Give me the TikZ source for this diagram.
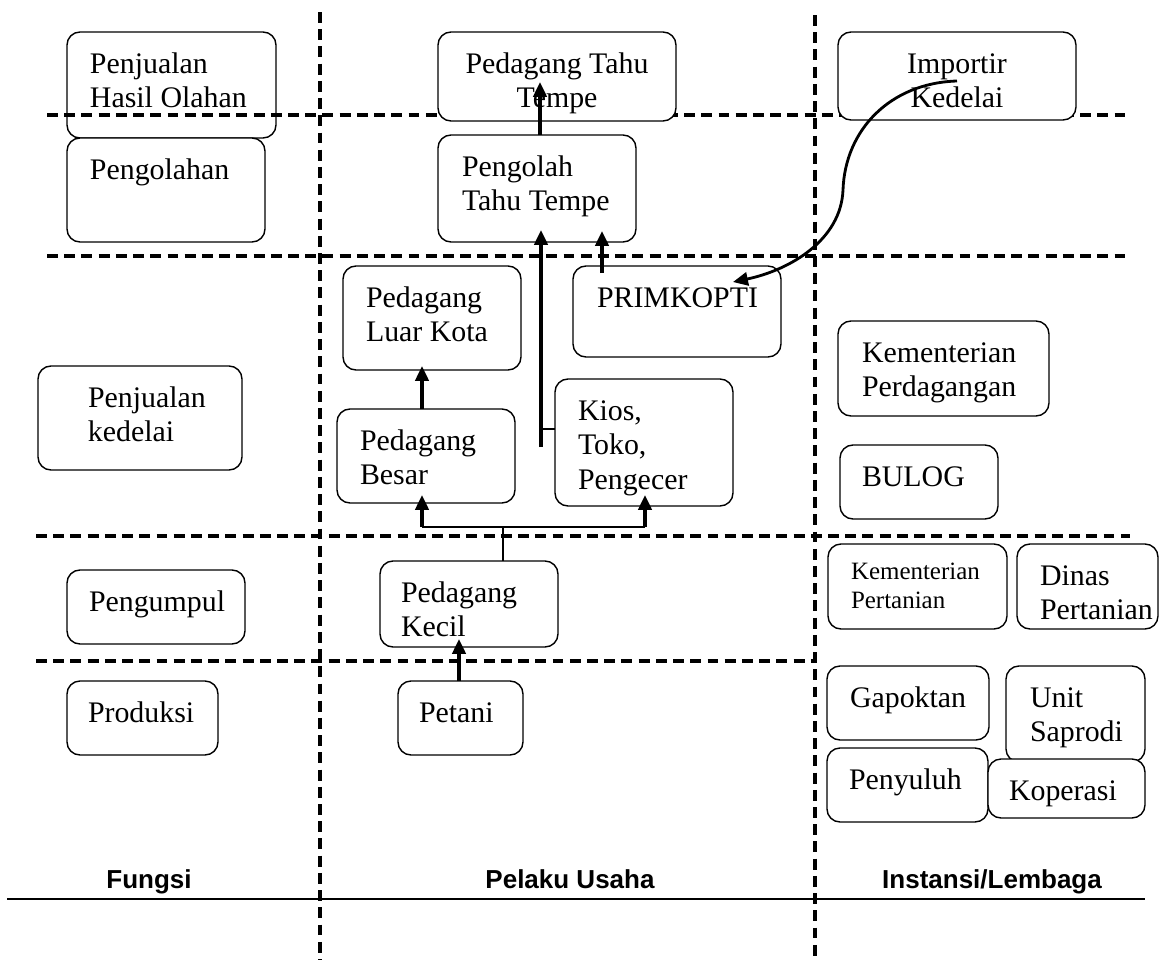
\documentclass[tikz,border=0pt]{standalone}
\usepackage{fontspec}
\setmainfont{Liberation Serif}
\newfontfamily\arialf{Liberation Sans}
\usetikzlibrary{arrows.meta}
\tikzset{
 box/.style={draw, line width=0.8pt, rounded corners=0.26cm, inner sep=0pt, outer sep=0pt, font=\fontsize{17}{19.5}\selectfont},
 filledbox/.style={box, fill=white},
 gridline/.style={line width=2pt, dash pattern=on 6.2pt off 3.6pt},
 arr/.style={line width=1.9pt, -{Triangle[length=8.5pt,width=7.6pt]}},
 curvearr/.style={line width=1.6pt, -{Triangle[length=8.5pt,width=7.6pt]}},
 thinline/.style={line width=0.8pt},
 lab/.style={font=\arialf\bfseries\fontsize{14.8}{17}\selectfont, anchor=base, inner sep=0pt},
}
\newcommand{\rbox}[9]{%
 \pgfmathsetmacro\rbw{(#5-#3)*0.02}%
 \pgfmathsetmacro\rbh{(#6-#4)*0.02}%
 \pgfmathsetmacro\rbt{(#5-#3-#7)*0.02}%
 \pgfmathsetmacro\rbp{#7*0.02}%
 \pgfmathsetmacro\rbx{(#3+#5)/2}%
 \pgfmathsetmacro\rby{(#4+#6)/2}%
 \node[#1, minimum width=\rbw cm, minimum height=\rbh cm] (#2) at (\rbx,\rby) {\hspace*{\rbp cm}\parbox[c][\rbh cm][t]{\rbt cm}{\def\rbs{0.83cm}#8\rule{0pt}{\rbs}#9}};%
}
\begin{document}
\begin{tikzpicture}[x=0.02cm, y=-0.02cm]
\useasboundingbox (0,0) rectangle (1159,960);
% grid
\draw[gridline] (320,12) -- (320,960);
\draw[gridline] (815,15) -- (815,960);
\draw[gridline] (47,115) -- (1130,115);
\draw[gridline] (47,256) -- (1130,256);
\draw[gridline] (36,536) -- (1130,536);
\draw[gridline] (36,661) -- (815,661);
\draw[thinline] (7,899) -- (1145,899);
% boxes
\rbox{box}{pho}{67}{32}{276}{138}{23}{\raggedright}{Penjualan\\Hasil Olahan}
\rbox{filledbox}{polah}{67}{138}{265}{242}{23}{\raggedright}{Pengolahan}
\rbox{filledbox}{ptt}{438}{32}{676}{121}{0}{\centering}{Pedagang Tahu\\Tempe}
\rbox{filledbox}{pgt}{438}{135}{636}{242}{24}{\raggedright}{Pengolah\\Tahu Tempe}
\rbox{filledbox}{imp}{838}{32}{1076}{120}{0}{\centering}{Importir\\Kedelai}
\rbox{filledbox}{plk}{343}{266}{521}{370}{23}{\raggedright}{Pedagang\\Luar Kota}
\rbox{filledbox}{prim}{573}{266}{781}{357}{24}{\raggedright}{PRIMKOPTI}
\rbox{filledbox}{kdag}{838}{321}{1049}{416}{24}{\raggedright}{Kementerian\\Perdagangan}
\rbox{filledbox}{pkd}{38}{366}{242}{470}{50}{\raggedright}{Penjualan\\kedelai}
\rbox{filledbox}{pb}{337}{409}{515}{503}{23}{\raggedright}{Pedagang\\Besar}
\rbox{filledbox}{kios}{555}{379}{733}{506}{23}{\raggedright}{Kios,\\Toko,\\Pengecer}
\rbox{filledbox}{bulog}{840}{445}{998}{519}{22}{\raggedright}{BULOG}
\rbox{filledbox}{pgp}{67}{570}{245}{644}{22}{\raggedright}{Pengumpul}
\rbox{filledbox}{pk}{380}{561}{558}{647}{21}{\raggedright}{Pedagang\\Kecil}
\rbox{filledbox,font=\fontsize{14.2}{16.6}\selectfont}{ktan}{828}{544}{1007}{629}{23}{\raggedright\def\rbs{0.7cm}}{Kementerian\\Pertanian}
\rbox{filledbox}{dinas}{1017}{544}{1158}{629}{23}{\raggedright}{Dinas\\Pertanian}
\rbox{filledbox}{prod}{67}{681}{218}{755}{21}{\raggedright}{Produksi}
\rbox{filledbox}{petani}{398}{681}{523}{755}{21}{\raggedright}{Petani}
\rbox{filledbox}{gap}{827}{666}{989}{740}{23}{\raggedright}{Gapoktan}
\rbox{filledbox}{unit}{1006}{666}{1145}{762}{24}{\raggedright}{Unit\\Saprodi}
\rbox{filledbox}{peny}{827}{748}{988}{822}{22}{\raggedright}{Penyuluh}
\rbox{filledbox}{kop}{988}{759}{1145}{818}{21}{\raggedright}{Koperasi}
% helper x positions
\coordinate (xt) at (540,0);
\coordinate (xp) at (602,0);
\coordinate (xa) at (422,0);
\coordinate (xpt) at (459,0);
% Pengolah -> Pedagang Tahu Tempe
\path (pgt.north -| xt) coordinate (a1s) (ptt.center -| xt) coordinate (a1e);
\draw[arr] (a1s) -- ([yshift=-0.11cm]a1e);
% long line to Pengolah
\coordinate (lj) at (541,447);
\path (pgt.south -| lj) coordinate (a2e);
\draw[arr] (lj) -- ([yshift=0.24cm]a2e);
\coordinate (kj) at (541,429);
\draw[thinline] (kj) -- (kj -| kios.west);
% PRIMKOPTI -> Pengolah
\path (prim.north -| xp) coordinate (a3s) (pgt.south -| xp) coordinate (a3e);
\draw[arr] ([yshift=-0.14cm]a3s) -- ([yshift=0.22cm]a3e);
% Besar -> Luar Kota
\path (pb.north -| xa) coordinate (a4s) (plk.south -| xa) coordinate (a4e);
\draw[arr] (a4s) -- ([yshift=0.08cm]a4e);
% bus from Pedagang Kecil
\coordinate (busl) at (422,527);
\coordinate (busr) at (645,527);
\coordinate (busm) at (503,527);
\draw[thinline] (busl) -- (busr);
\draw[thinline] (busm) -- (busm |- pk.north);
\path (busl |- pb.south) coordinate (a6e) (busr |- kios.south) coordinate (a7e);
\draw[arr] (busl) -- ([yshift=0.16cm]a6e);
\draw[arr] (busr) -- ([yshift=0.22cm]a7e);
% Petani -> Pedagang Kecil
\path (petani.north -| xpt) coordinate (a5s) (pk.south -| xpt) coordinate (a5e);
\draw[arr] (a5s) -- ([yshift=0.16cm]a5e);
% Importir -> PRIMKOPTI
\draw[curvearr] ([yshift=-0.1cm]imp.center) .. controls (890,83) and (845,130) .. (843,190) .. controls (841,240) and (790,270) .. ([xshift=-0.96cm,yshift=-0.32cm]prim.north east);
% labels
\node[lab] (fungsi) at (149,888) {Fungsi};
\node[lab] (pelaku) at (570,888) {Pelaku Usaha};
\node[lab] (instansi) at (992,888) {Instansi/Lembaga};
\end{tikzpicture}
\end{document}
